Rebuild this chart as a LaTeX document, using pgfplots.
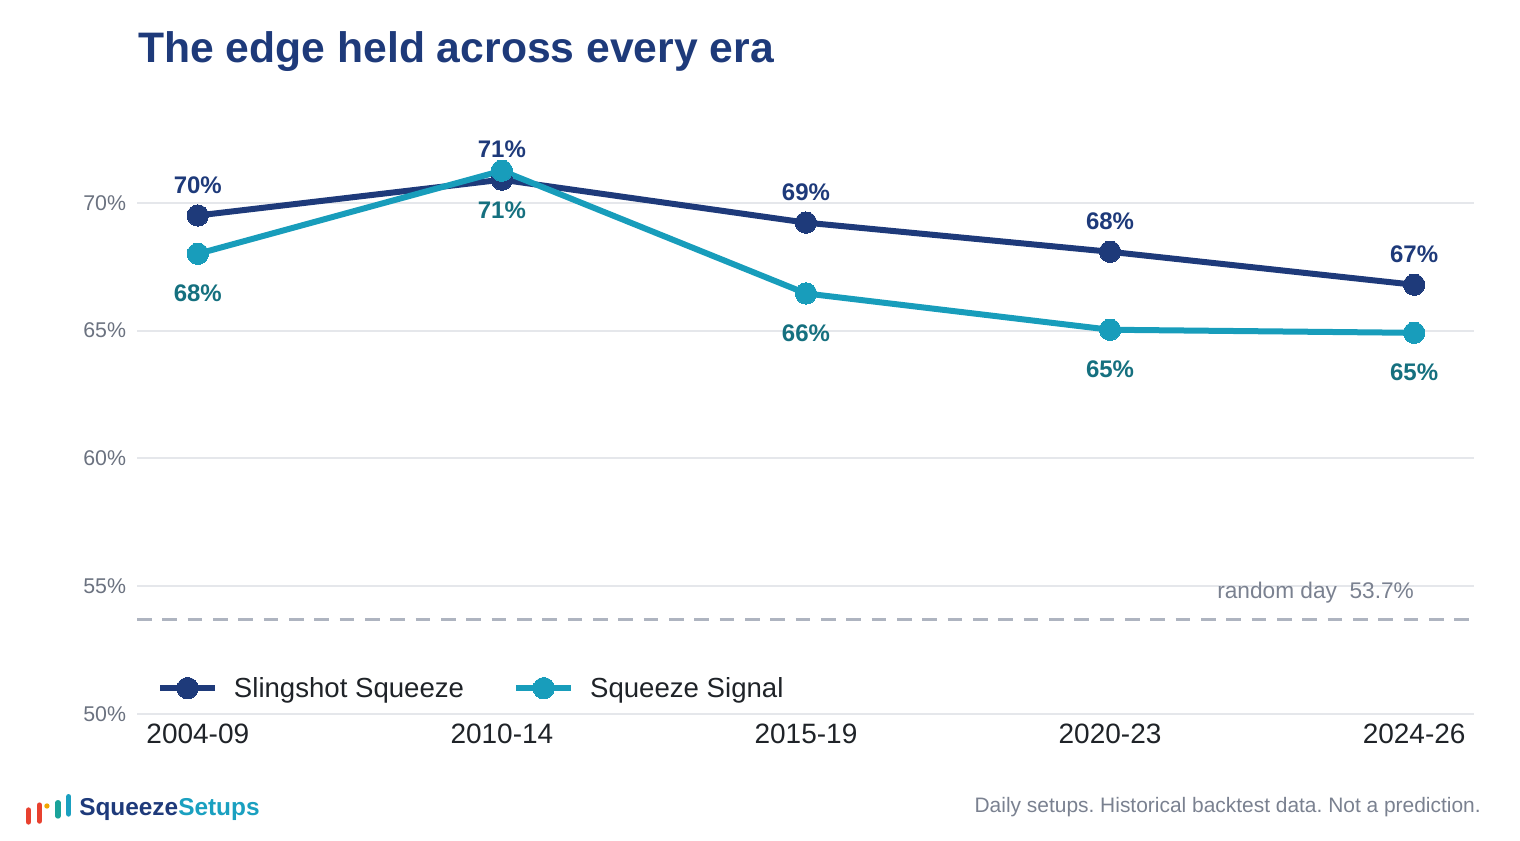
\documentclass[border=0pt]{standalone}
\usepackage{pgfplots}
\pgfplotsset{compat=1.18}
\usepackage{fontspec}
\setmainfont{Liberation Sans}
\frenchspacing

\definecolor{navy}{HTML}{1E3A7A}
\definecolor{teal}{HTML}{189DBB}
\definecolor{teallabel}{HTML}{15707F}
\definecolor{gridgray}{HTML}{E5E7EB}
\definecolor{tickgray}{HTML}{6B7280}
\definecolor{dashgray}{HTML}{AEB4C0}
\definecolor{textdark}{HTML}{1F2328}
\definecolor{notegray}{HTML}{7A8190}
\definecolor{logored}{HTML}{E8412F}
\definecolor{logoorange}{HTML}{F0A500}
\definecolor{logogreen}{HTML}{1AA39A}
\definecolor{logoblue}{HTML}{1AA0C0}

% win rate by era, percent
\pgfplotstableread{
x  y
0  69.5
1  70.9
2  69.22
3  68.08
4  66.79
}\slingshot
\pgfplotstableread{
x  y
0  68.0
1  71.25
2  66.45
3  65.03
4  64.91
}\signal

\begin{document}
\begin{tikzpicture}
\useasboundingbox (0,0) rectangle (1140pt,630pt);

% title
\node[anchor=base west, inner sep=0pt, text=navy, font=\bfseries\fontsize{32}{36}\selectfont]
  at (103.5pt,582.75pt) {The edge held across every era};

\begin{axis}[
  at={(102.75pt,94.5pt)}, anchor=south west,
  scale only axis, width=1002.75pt, height=441pt,
  xmin=-0.2, xmax=4.197, ymin=50, ymax=73,
  clip=false,
  axis line style={draw=none},
  major tick length=0pt,
  xtick={0,1,2,3,4},
  xticklabels={2004-09,2010-14,2015-19,2020-23,2024-26},
  ytick={50,55,60,65,70},
  yticklabels={50\%,55\%,60\%,65\%,70\%},
  xticklabel style={font=\fontsize{21}{24}\selectfont, text=textdark, anchor=north, inner sep=0pt, yshift=-7.5pt},
  yticklabel style={font=\fontsize{16}{20}\selectfont, text=tickgray, anchor=east, inner sep=0pt, xshift=-8pt},
  ymajorgrids,
  major grid style={draw=gridgray, line width=1.5pt},
  /pgf/number format/assume math mode=true,
  legend style={at={(0.012,0.044)}, anchor=west, draw=none, fill=none,
    font=\fontsize{20.7}{24}\selectfont, text=textdark,
    /tikz/every even column/.append style={column sep=35pt}},
  legend columns=2,
  legend image code/.code={\draw[mark repeat=2,mark phase=2,#1] plot coordinates {(0pt,0pt) (20.5pt,0pt) (41pt,0pt)}; \path (51pt,0pt);},
]

% random-day baseline
\addplot[forget plot, draw=dashgray, line width=2.25pt, dash pattern=on 11pt off 8pt] coordinates {(-0.2,53.7) (4.197,53.7)};
\node[anchor=base east, inner sep=0pt, text=notegray, font=\fontsize{17}{20}\selectfont] at (axis cs:4.0,54.5) {random day\ \ 53.7\%};

\addplot[navy, line width=4.5pt, mark=*, mark size=8pt, mark options={fill=navy, draw=navy, line width=0pt},
  nodes near coords={\pgfmathprintnumber[fixed,precision=0]{\pgfplotspointmeta}\%},
  every node near coord/.append style={anchor=center, yshift=23pt, text=navy, font=\bfseries\fontsize{18}{20}\selectfont}]
  table[x=x,y=y] {\slingshot};
\addlegendentry{Slingshot Squeeze}

\addplot[teal, line width=4.5pt, mark=*, mark size=8pt, mark options={fill=teal, draw=teal, line width=0pt},
  nodes near coords={\pgfmathprintnumber[fixed,precision=0]{\pgfplotspointmeta}\%},
  every node near coord/.append style={anchor=center, yshift=-29.5pt, text=teallabel, font=\bfseries\fontsize{18}{20}\selectfont}]
  table[x=x,y=y] {\signal};
\addlegendentry{Squeeze Signal}
\end{axis}

% footer note
\node[anchor=base east, inner sep=0pt, text=notegray, font=\fontsize{15.7}{18}\selectfont]
  at (1110.75pt,21pt) {Daily setups. Historical backtest data. Not a prediction.};

% brand mark
\begin{scope}[line cap=round, line width=4pt]
  \draw[logored] (21.4pt,13.5pt) -- (21.4pt,22.5pt);
  \draw[logored] (29.6pt,14.2pt) -- (29.6pt,26.2pt);
  \fill[logoorange] (35.2pt,25.5pt) circle (2pt);
  \draw[logogreen] (43.5pt,18pt) -- (43.5pt,28pt);
  \draw[logoblue] (51.5pt,19.5pt) -- (51.5pt,32.5pt);
\end{scope}
\node[anchor=base west, inner sep=0pt, font=\bfseries\fontsize{18.3}{20}\selectfont]
  at (59.25pt,18.75pt) {\textcolor{navy}{Squeeze}\textcolor{logoblue}{Setups}};
\end{tikzpicture}
\end{document}
